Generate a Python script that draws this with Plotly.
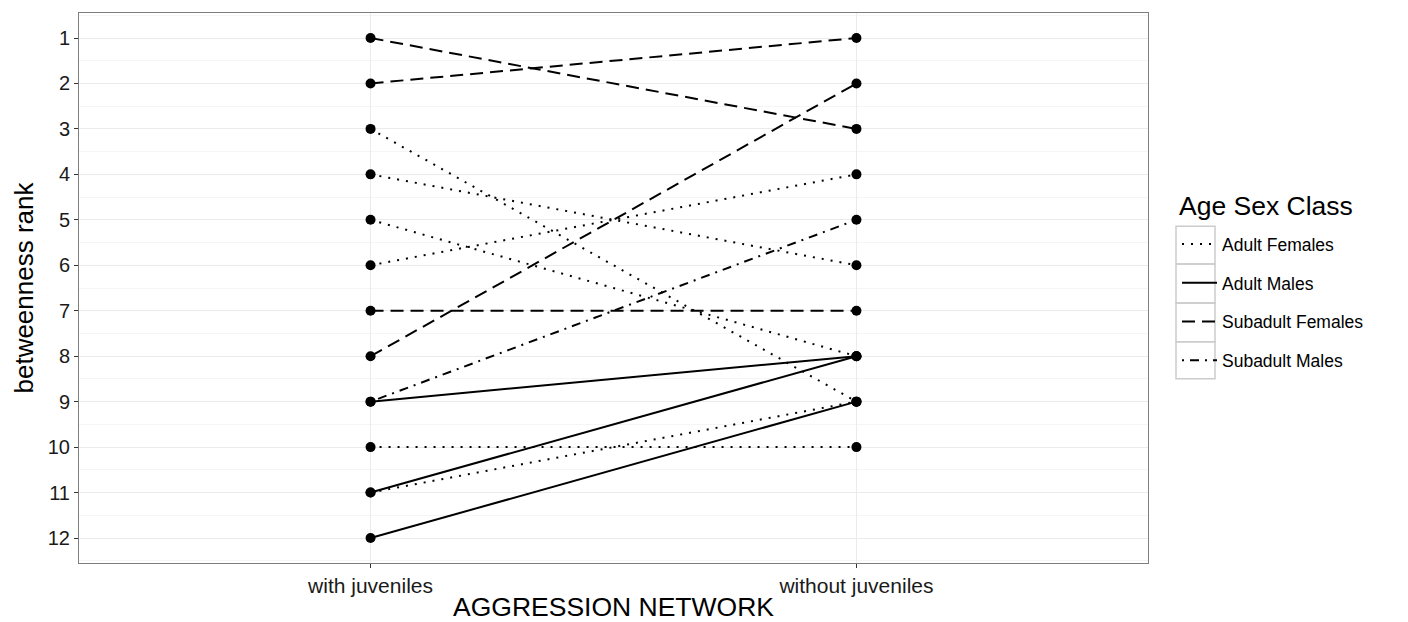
import plotly.graph_objects as go

# ---- data ----
networks = ["with juveniles", "without juveniles"]
age_sex_class = [
    "Subadult Females", "Subadult Females", "Adult Females", "Adult Females",
    "Adult Females", "Adult Females", "Subadult Females", "Subadult Females",
    "Adult Males", "Subadult Males", "Adult Females", "Adult Females",
    "Adult Males", "Adult Males",
]
rank_with = [1, 2, 3, 4, 5, 6, 7, 8, 9, 9, 10, 11, 11, 12]
rank_without = [3, 1, 9, 6, 8, 4, 7, 2, 8, 5, 10, 9, 8, 9]
class_order = ["Adult Females", "Adult Males", "Subadult Females", "Subadult Males"]
legend_title = "Age Sex Class"
rank_ticks = list(range(1, 13))

dash_styles = {
    "Adult Females": "2px,7px",
    "Adult Males": "solid",
    "Subadult Females": "13px,7px",
    "Subadult Males": "2px,6px,9px,6px",
}

FONT = "Liberation Sans, Arial, sans-serif"
fig = go.Figure()

for cls in class_order:
    xs, ys = [], []
    for c, a, b in zip(age_sex_class, rank_with, rank_without):
        if c == cls:
            xs += [networks[0], networks[1], None]
            ys += [a, b, None]
    fig.add_trace(go.Scatter(
        x=xs, y=ys, mode="lines", name=cls, legendgroup=cls,
        line=dict(color="black", width=2, dash=dash_styles[cls]),
        connectgaps=False,
    ))

fig.add_trace(go.Scatter(
    x=[networks[0]] * len(rank_with) + [networks[1]] * len(rank_without),
    y=rank_with + rank_without,
    mode="markers", showlegend=False,
    marker=dict(color="black", size=10),
))

# page geometry: the figure sits at (8, 8) on the page (body margin)
OFF = 8
W, H = 1400, 614
L, R, T, B = 79 - OFF, 1148 - OFF, 12 - OFF, 564 - OFF
def px2paper(x, y):
    x -= OFF
    y -= OFF
    return (x - L) / (R - L), (B - y) / (B - T)

# legend key boxes (page pixels)
shapes = []
bounds = [226, 264, 303, 342, 379]
for top, bot in zip(bounds[:-1], bounds[1:]):
    x0, y0 = px2paper(1176, top)
    x1, y1 = px2paper(1215, bot)
    shapes.append(dict(type="rect", xref="paper", yref="paper",
                       x0=x0, x1=x1, y0=y1, y1=y0,
                       line=dict(color="#CCCCCC", width=1.5),
                       fillcolor="rgba(0,0,0,0)", layer="below"))

tx, ty = px2paper(1177, 206)
annotations = [dict(text=legend_title, xref="paper", yref="paper", x=tx, y=ty,
                    xanchor="left", yanchor="middle", showarrow=False,
                    font=dict(size=26.5, color="black", family=FONT))]

fig.update_layout(
    width=W, height=H,
    margin=dict(l=L, r=W - R, t=T, b=H - B),
    paper_bgcolor="white", plot_bgcolor="white",
    font=dict(family=FONT, color="black"),
    shapes=shapes,
    annotations=annotations,
    legend=dict(
        font=dict(size=17.5, color="black"),
        x=px2paper(1177, 0)[0], xanchor="left",
        y=px2paper(0, 226)[1], yanchor="top",
        tracegroupgap=13,
        bgcolor="rgba(0,0,0,0)",
        itemwidth=35,
    ),
    xaxis=dict(
        type="category", categoryorder="array", categoryarray=networks,
        range=[-0.6, 1.6],
        title=dict(text="AGGRESSION NETWORK", font=dict(size=26.5, color="black"), standoff=2),
        tickfont=dict(size=21, color="#1a1a1a"),
        showgrid=True, gridcolor="#EBEBEB", gridwidth=1,
        ticks="outside", ticklen=4, tickcolor="#333333",
        showline=True, linecolor="#7F7F7F", linewidth=1, mirror=True,
        zeroline=False,
    ),
    yaxis=dict(
        range=[12.55, 0.45],
        tickvals=rank_ticks,
        ticktext=[str(v) for v in rank_ticks],
        title=dict(text="betweenness rank", font=dict(size=26, color="black"), standoff=6),
        tickfont=dict(size=20, color="#1a1a1a"),
        showgrid=True, gridcolor="#EBEBEB", gridwidth=1,
        minor=dict(tick0=0.5, dtick=1, showgrid=True, gridcolor="#F5F5F5", gridwidth=1, ticks=""),
        ticks="outside", ticklen=4, tickcolor="#333333",
        showline=True, linecolor="#7F7F7F", linewidth=1, mirror=True,
        zeroline=False,
    ),
)

fig.write_html("out.html")
